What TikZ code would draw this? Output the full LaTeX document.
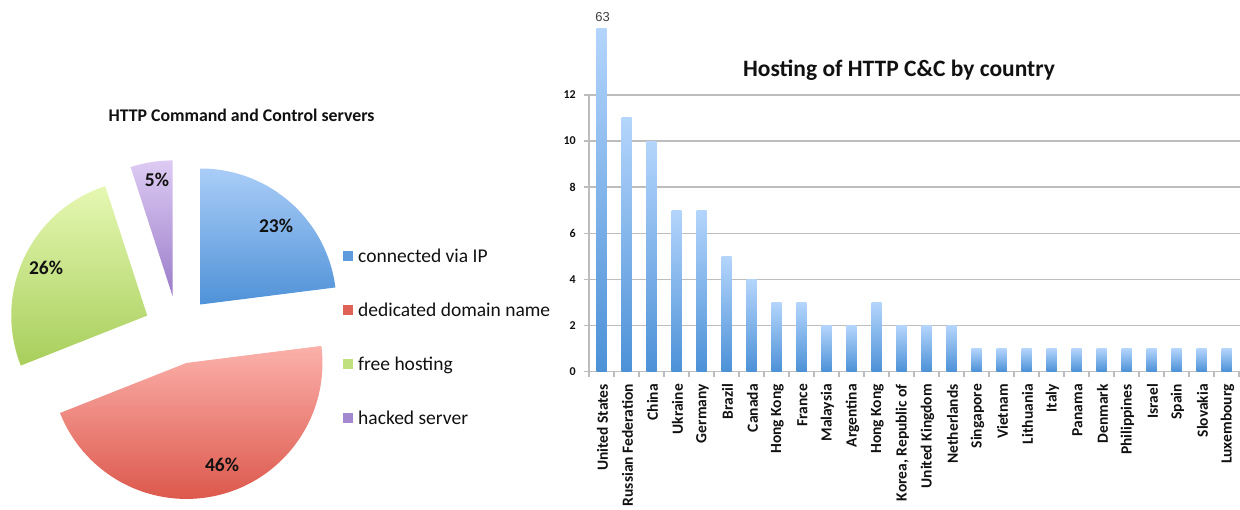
\documentclass[tikz,border=0pt]{standalone}
\usepackage{fontspec}
\setmainfont{Carlito}
\newfontfamily\valuefont{Liberation Sans}

% slice and bar fills (light at the top, deep at the bottom)
\definecolor{ipTop}{HTML}{AACDF7}
\definecolor{ipBot}{HTML}{4F92D8}
\definecolor{domTop}{HTML}{FBB1AB}
\definecolor{domBot}{HTML}{DB5448}
\definecolor{freeTop}{HTML}{E5F8B2}
\definecolor{freeBot}{HTML}{A8CE5B}
\definecolor{hackTop}{HTML}{DDCBF3}
\definecolor{hackBot}{HTML}{9A7CC9}
\definecolor{barTop}{HTML}{B4D5FC}
\definecolor{barBot}{HTML}{4C91D7}
\definecolor{gridgray}{HTML}{BDBDBD}
\definecolor{ink}{HTML}{111111}

\tikzset{
  pct/.style={font=\fontsize{19.5}{22}\bfseries\selectfont, text=ink, inner sep=0pt},
  legtext/.style={font=\fontsize{19.5}{22}\selectfont, text=ink, anchor=base west, inner sep=0pt},
  legbox/.style={minimum size=10pt, inner sep=0pt, draw=none},
  grid/.style={draw=gridgray, line width=1.3pt},
  ytick/.style={font=\fontsize{12}{14}\bfseries\selectfont, text=ink, anchor=east, inner sep=0pt},
  country/.style={font=\fontsize{15.5}{17}\bfseries\selectfont, text=ink, rotate=90, anchor=east, inner sep=0pt},
}

\begin{document}
\begin{tikzpicture}[x=1pt, y=-1pt]
\useasboundingbox (0,0) rectangle (1240,509);

%---------------- exploded pie ----------------
\node[font=\fontsize{17.8}{20}\bfseries\selectfont, text=ink, anchor=base, inner sep=0pt]
  (pietitle) at (241.5,121) {HTTP Command and Control servers};

\begin{scope}[shift={(178,330)}, y=1pt]
  \shade[top color=ipTop, bottom color=ipBot]
    (48.6:34) -- ++(90:136) arc[start angle=90, end angle=7.2, radius=136] -- cycle;
  \shade[top color=domTop, bottom color=domBot]
    (-75.6:34) -- ++(7.2:136) arc[start angle=7.2, end angle=-158.4, radius=136] -- cycle;
  \shade[top color=freeTop, bottom color=freeBot]
    (-205.2:34) -- ++(-158.4:136) arc[start angle=-158.4, end angle=-252, radius=136] -- cycle;
  \shade[top color=hackTop, bottom color=hackBot]
    (-261:34) -- ++(-252:136) arc[start angle=-252, end angle=-270, radius=136] -- cycle;
\end{scope}

\node[pct] (p23) at (276,226) {23\%};
\node[pct] (p46) at (222,465) {46\%};
\node[pct] (p26) at (46,268) {26\%};
\node[pct] (p5)  at (157,180) {5\%};

% legend
\node[legbox, fill=ipBot!85!ipTop]     (k1) at (348,256) {};
\node[legbox, fill=domBot!85!domTop]   (k2) at (348,310) {};
\node[legbox, fill=freeBot!60!freeTop] (k3) at (348,364) {};
\node[legbox, fill=hackBot!85!hackTop] (k4) at (348,418) {};
\node[legtext] (l1) at (358,262.5) {connected via IP};
\node[legtext] (l2) at (358,316.5) {dedicated domain name};
\node[legtext] (l3) at (358,370.5) {free hosting};
\node[legtext] (l4) at (358,424.5) {hacked server};

%---------------- bar chart ----------------
% grid lines and axes
\foreach \g in {2,4,...,12}
  \draw[grid] (584,{371.5-23.05*\g}) -- (1240,{371.5-23.05*\g});
\draw[grid] (589,94) -- (589,371.5);
\draw[grid] (584,371.5) -- (1240,371.5);
\foreach \k in {0,...,26}
  \draw[grid] ({589+25*\k},371.5) -- ({589+25*\k},377);

\foreach \g in {0,2,...,12}
  \node[ytick] (yt\g) at (576,{371.5-23.05*\g}) {\g};

% bars
\foreach \v [count=\i from 0] in {63,11,10,7,7,5,4,3,3,2,2,3,2,2,2,1,1,1,1,1,1,1,1,1,1,1}{
  \pgfmathsetmacro\cx{601.5+25*\i}
  \pgfmathsetmacro\ty{\v>12 ? 28 : 371.5-23.05*\v}
  \shade[top color=barTop, bottom color=barBot] (\cx-5,371.5) rectangle (\cx+5,\ty);
}

\node[font=\valuefont\fontsize{13}{15}\selectfont, text=black!75, inner sep=0pt]
  (usvalue) at (602.5,17) {63};

\node[font=\fontsize{23.5}{26}\bfseries\selectfont, text=ink, anchor=base, inner sep=0pt]
  (bartitle) at (899,76) {Hosting of HTTP C\&C by country};

% country labels
\foreach \c [count=\i from 0] in {United States, Russian Federation, China, Ukraine,
    Germany, Brazil, Canada, Hong Kong, France, Malaysia, Argentina, Hong Kong,
    {Korea, Republic of}, United Kingdom, Netherlands, Singapore, Vietnam, Lithuania,
    Italy, Panama, Denmark, Philippines, Israel, Spain, Slovakia, Luxembourg}
  \node[country] (lab\i) at ({602.5+25*\i},384) {\c};

\end{tikzpicture}
\end{document}
